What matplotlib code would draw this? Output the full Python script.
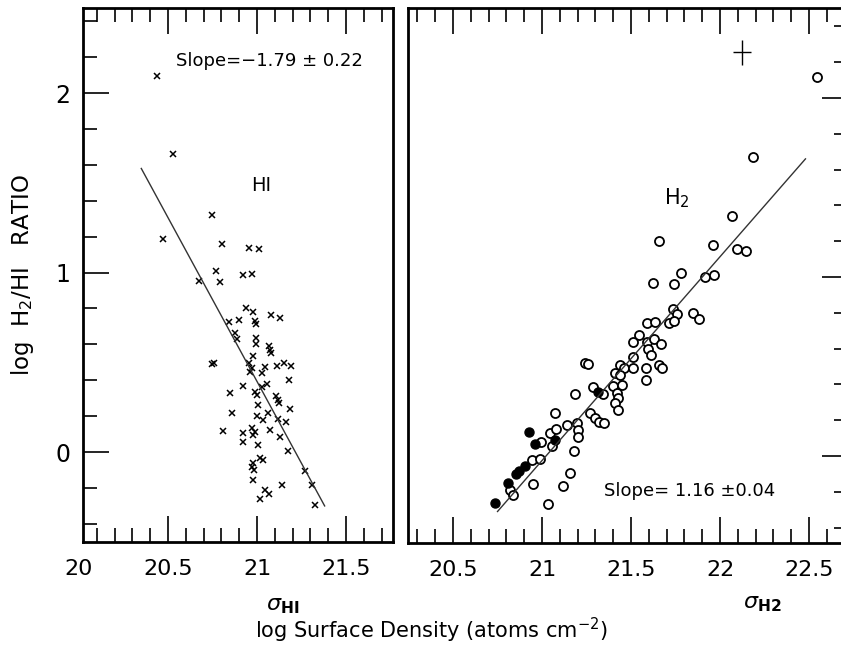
import matplotlib
matplotlib.use("Agg")
import matplotlib.pyplot as plt
from matplotlib.ticker import MultipleLocator, FixedLocator
from matplotlib.transforms import offset_copy

# --- HI panel : log sigma_HI vs log H2/HI (crosses)
hi_x = [20.438, 20.528, 20.472, 20.747, 20.803, 20.955, 21.011, 20.770, 20.674, 20.792,
        20.921, 20.972, 20.938, 20.978, 21.079, 21.129, 20.843, 20.899, 20.989, 20.994,
        20.876, 20.888, 20.994, 20.994, 21.067, 21.073, 21.079, 20.747, 20.758, 20.978,
        20.955, 20.972, 21.045, 21.112, 21.152, 21.191, 20.961, 21.028, 21.180, 20.921,
        21.028, 21.056, 20.848, 20.989, 21.000, 21.107, 21.118, 21.124, 21.006, 21.185,
        20.860, 21.062, 21.000, 21.034, 21.118, 21.163, 20.809, 20.972, 20.989, 20.978,
        20.921, 21.073, 20.921, 21.129, 21.006, 21.174, 21.017, 21.034, 20.978, 20.972,
        20.983, 20.978, 21.045, 21.067, 21.140, 21.017, 21.270, 21.309, 21.326]
hi_y = [2.095, 1.660, 1.187, 1.320, 1.159, 1.136, 1.131, 1.008, 0.953, 0.947,
        0.986, 0.992, 0.802, 0.780, 0.763, 0.747, 0.724, 0.735, 0.730, 0.713,
        0.663, 0.630, 0.635, 0.602, 0.591, 0.568, 0.552, 0.490, 0.496, 0.535,
        0.496, 0.468, 0.474, 0.479, 0.496, 0.479, 0.446, 0.440, 0.401, 0.368,
        0.362, 0.379, 0.329, 0.334, 0.318, 0.312, 0.290, 0.273, 0.262, 0.240,
        0.217, 0.217, 0.201, 0.178, 0.184, 0.167, 0.117, 0.134, 0.111, 0.095,
        0.106, 0.123, 0.056, 0.084, 0.039, 0.006, -0.033, -0.045, -0.061, -0.084,
        -0.100, -0.156, -0.212, -0.234, -0.184, -0.262, -0.106, -0.184, -0.295]
hi_fit_x = [20.35, 21.38]
hi_fit_y = [1.58, -0.30]

# --- H2 panel : log sigma_H2 vs log H2/HI (open + filled circles)
h2_x = [22.545, 22.185, 22.067, 21.657, 21.961, 22.096, 22.146, 21.781, 21.624, 21.742,
        21.916, 21.966, 21.736, 21.758, 21.848, 21.882, 21.590, 21.635, 21.713, 21.742,
        21.545, 21.511, 21.590, 21.629, 21.669, 21.596, 21.612, 21.511, 21.438, 21.461,
        21.511, 21.584, 21.657, 21.674, 21.584, 21.242, 21.258, 21.410, 21.438, 21.399,
        21.449, 21.421, 21.427, 21.410, 21.427, 21.343, 21.185, 21.073, 21.270, 21.298,
        21.320, 21.348, 21.140, 21.197, 21.202, 21.202, 21.045, 21.079, 20.994, 21.056,
        21.180, 20.944, 20.989, 21.157, 21.118, 20.949, 20.820, 20.837, 21.034, 21.287]
h2_y = [2.117, 1.670, 1.341, 1.201, 1.179, 1.156, 1.145, 1.022, 0.966, 0.961,
        1.000, 1.011, 0.821, 0.793, 0.799, 0.765, 0.743, 0.749, 0.743, 0.754,
        0.676, 0.637, 0.637, 0.654, 0.626, 0.598, 0.564, 0.553, 0.508, 0.492,
        0.492, 0.492, 0.508, 0.492, 0.425, 0.520, 0.514, 0.464, 0.453, 0.391,
        0.397, 0.352, 0.324, 0.296, 0.257, 0.346, 0.346, 0.240, 0.240, 0.212,
        0.190, 0.184, 0.173, 0.184, 0.145, 0.106, 0.128, 0.151, 0.078, 0.056,
        0.028, -0.022, -0.017, -0.095, -0.168, -0.156, -0.190, -0.218, -0.268, 0.385]
h2f_x = [21.315, 20.927, 21.073, 20.961, 20.904, 20.871, 20.854, 20.809, 20.736]
h2f_y = [0.358, 0.134, 0.089, 0.067, -0.056, -0.084, -0.101, -0.151, -0.263]
h2_fit_x = [20.75, 22.48]
h2_fit_y = [-0.31, 1.66]
err_x, err_y, err_dx, err_dy = 22.124, 2.257, 0.05, 0.07

left_ticks = [20.5, 21, 21.5]
left_ticklabels = ['20.5', '21', '21.5']
right_ticks = [20.5, 21, 21.5, 22, 22.5]
right_ticklabels = ['20.5', '21', '21.5', '22', '22.5']

plt.rcParams['font.family'] = ['DejaVu Sans']
plt.rcParams['mathtext.fontset'] = 'dejavusans'

fig = plt.figure(figsize=(8.41, 6.49), dpi=100)
W, H = 841, 649
axl = fig.add_axes([83 / W, 1 - 542 / H, 310 / W, 534 / H])
axr = fig.add_axes([408 / W, 1 - 543 / H, 440 / W, 535 / H])

TICKPAD_X = 12
for ax in (axl, axr):
    for s in ax.spines.values():
        s.set_linewidth(2.0)
    ax.xaxis.set_minor_locator(MultipleLocator(0.1))
    ax.yaxis.set_major_locator(FixedLocator([0, 1, 2]))
    ax.yaxis.set_minor_locator(MultipleLocator(0.2))
    ax.tick_params(which='major', direction='in', length=19, width=1.2,
                   labelsize=16, top=True)
    ax.tick_params(which='minor', direction='in', length=10, width=1.2, top=True)
    ax.tick_params(axis='x', pad=TICKPAD_X)

# left panel
axl.plot(hi_x, hi_y, 'x', color='black', ms=5.0, mew=1.1)
axl.plot(hi_fit_x, hi_fit_y, color='#333333', lw=1.0)
axl.set_xlim(20.0225, 21.764)
axl.set_ylim(-0.501, 2.474)
axl.set_xticks(left_ticks)
axl.set_xticklabels(left_ticklabels)
axl.tick_params(axis='y', which='both', left=True, right=False, pad=9)
axl.tick_params(axis='y', labelsize=17)
# "20" sits just left of the frame
axl.text(20.0, 0, '20', fontsize=16, ha='center', va='top', clip_on=False,
         transform=offset_copy(axl.get_xaxis_transform(), fig=fig, y=-TICKPAD_X, units='points'))
axl.text(0.60, 0.90, 'Slope=\u22121.79 \u00b1 0.22', fontsize=13, ha='center', va='center',
         transform=axl.transAxes)
axl.text(0.575, 0.668, 'HI', fontsize=14, ha='center', va='center', transform=axl.transAxes)
axl.set_ylabel('log  H$_2$/HI   RATIO', fontsize=16.5, labelpad=14)

# right panel
axr.plot(h2_x, h2_y, 'o', mfc='white', mec='black', ms=6.5, mew=1.3)
axr.plot(h2f_x, h2f_y, 'o', color='black', ms=6.5)
axr.plot(h2_fit_x, h2_fit_y, color='#333333', lw=1.0)
axr.errorbar([err_x], [err_y], xerr=[err_dx], yerr=[err_dy], fmt='none',
             ecolor='black', elinewidth=1.0, capsize=0)
axr.set_xlim(20.247, 22.719)
axr.set_ylim(-0.486, 2.503)
axr.set_xticks(right_ticks)
axr.set_xticklabels(right_ticklabels)
axr.tick_params(axis='y', which='both', left=False, right=True, labelleft=False)
axr.text(0.61, 0.645, 'H$_2$', fontsize=15, ha='center', va='center', transform=axr.transAxes)
axr.text(0.64, 0.098, 'Slope= 1.16 \u00b10.04', fontsize=13, ha='center', va='center',
         transform=axr.transAxes)

# axis titles
fig.text(283 / W, 1 - 606 / H, r'$\sigma_{\mathbf{HI}}$', fontsize=16, ha='center', va='center')
fig.text(762 / W, 1 - 604 / H, r'$\sigma_{\mathbf{H2}}$', fontsize=16, ha='center', va='center')
fig.text(431 / W, 1 - 630 / H, 'log Surface Density (atoms cm$^{-2}$)', fontsize=15,
         ha='center', va='center')

fig.savefig('out.png', dpi=100)
